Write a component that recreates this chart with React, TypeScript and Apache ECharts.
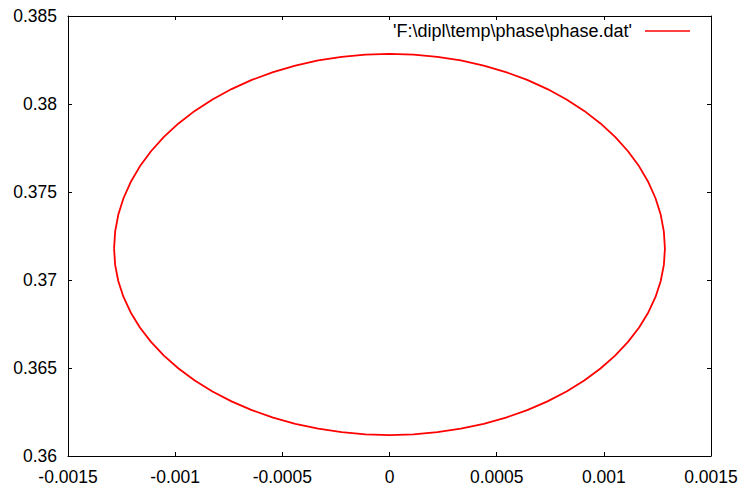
import React, { useEffect, useRef } from "react";
import * as echarts from "echarts";

// Phase-space trajectory from phase.dat: one closed orbit, traced from the
// leftmost point over the top, down the right side and back along the bottom.
const phaseX = [
  // left, rising to the top
  -0.001285, -0.0012801, -0.0012655, -0.0012412, -0.0012075, -0.0011646, -0.0011128, -0.0010526,
  -0.0009844, -0.0009086, -0.000826, -0.0007371, -0.0006425, -0.0005431, -0.0004395, -0.0003326,
  -0.0002231, -0.000112, 0,
  // top, falling to the right
  0.000112, 0.0002231, 0.0003326, 0.0004395, 0.0005431, 0.0006425, 0.0007371, 0.000826,
  0.0009086, 0.0009844, 0.0010526, 0.0011128, 0.0011646, 0.0012075, 0.0012412, 0.0012655,
  0.0012801, 0.001285,
  // right, down to the bottom
  0.0012801, 0.0012655, 0.0012412, 0.0012075, 0.0011646, 0.0011128, 0.0010526, 0.0009844,
  0.0009086, 0.000826, 0.0007371, 0.0006425, 0.0005431, 0.0004395, 0.0003326, 0.0002231,
  0.000112, 0,
  // bottom, back to the left
  -0.000112, -0.0002231, -0.0003326, -0.0004395, -0.0005431, -0.0006425, -0.0007371, -0.000826,
  -0.0009086, -0.0009844, -0.0010526, -0.0011128, -0.0011646, -0.0012075, -0.0012412, -0.0012655,
  -0.0012801, -0.001285,
];
const phaseY = [
  0.37178, 0.372745, 0.373702, 0.374645, 0.375566, 0.376458, 0.377315, 0.378129,
  0.378896, 0.379608, 0.38026, 0.380848, 0.381367, 0.381813, 0.382182, 0.382473,
  0.382682, 0.382808, 0.38285,
  0.382808, 0.382682, 0.382473, 0.382182, 0.381813, 0.381367, 0.380848, 0.38026,
  0.379608, 0.378896, 0.378129, 0.377315, 0.376458, 0.375566, 0.374645, 0.373702,
  0.372745, 0.37178,
  0.370857, 0.369941, 0.369039, 0.368158, 0.367304, 0.366485, 0.365706, 0.364973,
  0.364292, 0.363668, 0.363105, 0.362609, 0.362182, 0.361829, 0.361551, 0.361351,
  0.36123, 0.36119,
  0.36123, 0.361351, 0.361551, 0.361829, 0.362182, 0.362609, 0.363105, 0.363668,
  0.364292, 0.364973, 0.365706, 0.366485, 0.367304, 0.368158, 0.369039, 0.369941,
  0.370857, 0.37178,
];

const xMin = -0.0015;
const xMax = 0.0015;
const xStep = 0.0005;
const yMin = 0.36;
const yMax = 0.385;
const yStep = 0.005;

const seriesName = "'F:\\dipl\\temp\\phase\\phase.dat'";

const FONT = "Liberation Sans, Arial, Helvetica, sans-serif";

const fmt = (v: number) => String(parseFloat(v.toPrecision(6)));

export default function App() {
  const ref = useRef<HTMLDivElement>(null);

  useEffect(() => {
    if (!ref.current) return;
    const chart = echarts.init(ref.current, undefined, { renderer: "svg" });

    const points = phaseX.map((x, i) => [x, phaseY[i]]);

    const frameLine = { show: true, onZero: false, lineStyle: { color: "#000", width: 1 } };
    const tickIn = { show: true, inside: true, length: 4, lineStyle: { color: "#000", width: 1 } };
    const labelStyle = { color: "#000", fontFamily: FONT, fontSize: 17.5 };

    chart.setOption({
      animation: false,
      backgroundColor: "#fff",
      grid: { left: 68, right: 33, top: 16, bottom: 35, containLabel: false },
      xAxis: [
        {
          type: "value",
          min: xMin,
          max: xMax,
          interval: xStep,
          position: "bottom",
          axisLine: frameLine,
          axisTick: tickIn,
          splitLine: { show: false },
          axisLabel: { ...labelStyle, margin: 12, formatter: fmt },
        },
        {
          type: "value",
          min: xMin,
          max: xMax,
          interval: xStep,
          position: "top",
          axisLine: frameLine,
          axisTick: tickIn,
          splitLine: { show: false },
          axisLabel: { show: false },
        },
      ],
      yAxis: [
        {
          type: "value",
          min: yMin,
          max: yMax,
          interval: yStep,
          position: "left",
          axisLine: frameLine,
          axisTick: tickIn,
          splitLine: { show: false },
          axisLabel: { ...labelStyle, margin: 11, formatter: fmt },
        },
        {
          type: "value",
          min: yMin,
          max: yMax,
          interval: yStep,
          position: "right",
          axisLine: frameLine,
          axisTick: tickIn,
          splitLine: { show: false },
          axisLabel: { show: false },
        },
      ],
      series: [
        {
          name: seriesName,
          type: "line",
          xAxisIndex: 0,
          yAxisIndex: 0,
          data: points,
          showSymbol: false,
          smooth: false,
          lineStyle: { color: "#ff0000", width: 1.8, join: "round" },
        },
      ],
      graphic: [
        {
          type: "text",
          x: 632,
          y: 31,
          style: {
            text: seriesName,
            align: "right",
            verticalAlign: "middle",
            fill: "#000",
            font: `18px ${FONT}`,
          },
        },
        {
          type: "line",
          shape: { x1: 645, y1: 31, x2: 690, y2: 31 },
          style: { stroke: "#ff0000", lineWidth: 1.5 },
        },
      ],
    });

    return () => chart.dispose();
  }, []);

  return (
    <div
      ref={ref}
      style={{ position: "absolute", left: 0, top: 0, width: 744, height: 491, background: "#fff" }}
    />
  );
}
